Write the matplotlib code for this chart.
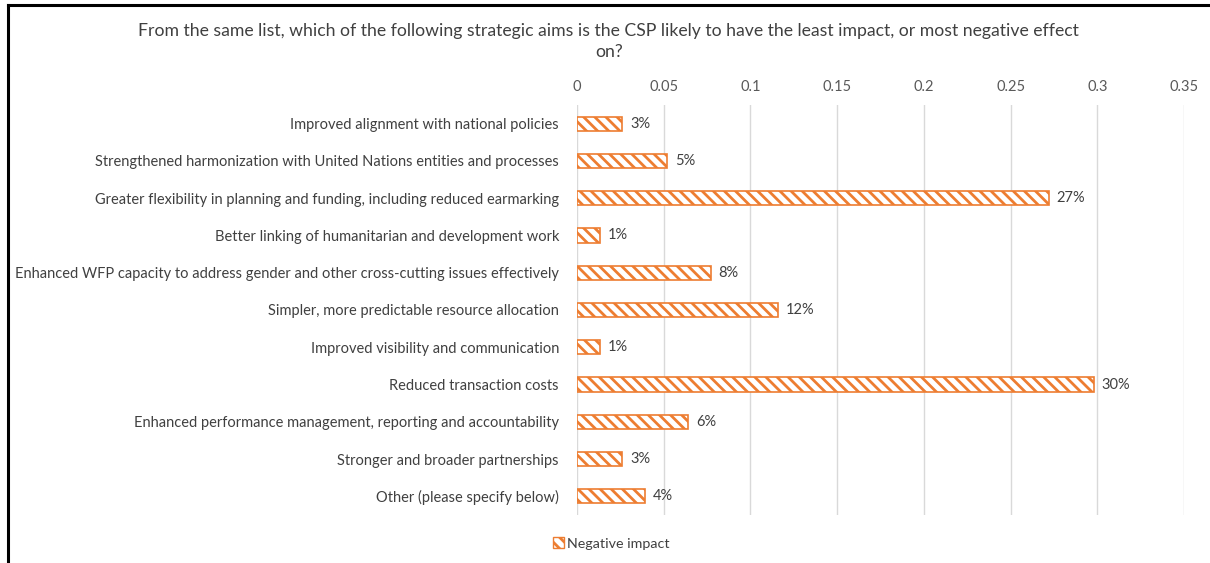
import matplotlib
matplotlib.use("Agg")
import matplotlib.pyplot as plt
from matplotlib.lines import Line2D
from matplotlib.patches import Patch
import numpy as np

# survey responses (share of respondents)
categories = [
    "Improved alignment with national policies",
    "Strengthened harmonization with United Nations entities and processes",
    "Greater flexibility in planning and funding, including reduced earmarking",
    "Better linking of humanitarian and development work",
    "Enhanced WFP capacity to address gender and other cross-cutting issues effectively",
    "Simpler, more predictable resource allocation",
    "Improved visibility and communication",
    "Reduced transaction costs",
    "Enhanced performance management, reporting and accountability",
    "Stronger and broader partnerships",
    "Other (please specify below)",
]
negative_impact = [0.026, 0.052, 0.272, 0.013, 0.077, 0.116, 0.013, 0.298, 0.064, 0.026, 0.039]
x_ticks = [0, 0.05, 0.1, 0.15, 0.2, 0.25, 0.3, 0.35]
x_tick_labels = ["0", "0.05", "0.1", "0.15", "0.2", "0.25", "0.3", "0.35"]

title = ("From the same list, which of the following strategic aims is the CSP likely to have the least impact, or most negative effect\non?")
series_name = "Negative impact"

ORANGE = "#ED7D31"
TEXT = "#404040"
GRID = "#D9D9D9"
HATCH = "\\\\\\"

plt.rcParams["font.family"] = ["Lato", "DejaVu Sans"]
plt.rcParams["hatch.linewidth"] = 2.0
plt.rcParams["hatch.color"] = ORANGE

fig = plt.figure(figsize=(12.10, 5.63), dpi=100)
ax = fig.add_axes([0.4769, 0.0853, 0.5016, 0.7282])

y = np.arange(len(categories))
bars = ax.barh(y, negative_impact, height=0.38, color="white", edgecolor=ORANGE,
               hatch=HATCH, linewidth=1.2, zorder=3)

for rect, v in zip(bars, negative_impact):
    ax.text(rect.get_width() + 0.0045, rect.get_y() + rect.get_height() / 2,
            f"{v:.0%}", va="center", ha="left", fontsize=10.5, color=TEXT)

ax.set_ylim(len(categories) - 0.5, -0.5)
ax.set_yticks(y)
ax.set_yticklabels(categories, fontsize=10.55, color=TEXT)
ax.set_xlim(0, 0.35)
ax.set_xticks(x_ticks)
ax.set_xticklabels(x_tick_labels, fontsize=10.5, color="#595959")
ax.xaxis.tick_top()
ax.tick_params(axis="both", length=0)
ax.tick_params(axis="x", pad=8)
ax.tick_params(axis="y", pad=13)
ax.grid(axis="x", color=GRID, linewidth=1.0, zorder=0)
ax.set_axisbelow(True)
for s in ax.spines.values():
    s.set_visible(False)

fig.text(0.503, 0.96, title, ha="center", va="top", fontsize=12.7,
         color=TEXT, linespacing=1.4)

fig.legend(handles=[Patch(facecolor="white", edgecolor=ORANGE, hatch=HATCH, linewidth=1.0,
                          label=series_name)],
           loc="center", bbox_to_anchor=(0.505, 0.035), frameon=False,
           fontsize=10.3, handlelength=0.8, handleheight=0.8, handletextpad=0.2,
           labelcolor=TEXT)

# frame edges on the top and left of the chart area
fig.add_artist(Line2D([0.0066, 0.0066], [0, 0.992], transform=fig.transFigure,
                      color="black", linewidth=2.2))
fig.add_artist(Line2D([0.0066, 1.0], [0.992, 0.992], transform=fig.transFigure,
                      color="black", linewidth=2.2))

fig.savefig("out.png", dpi=100)
